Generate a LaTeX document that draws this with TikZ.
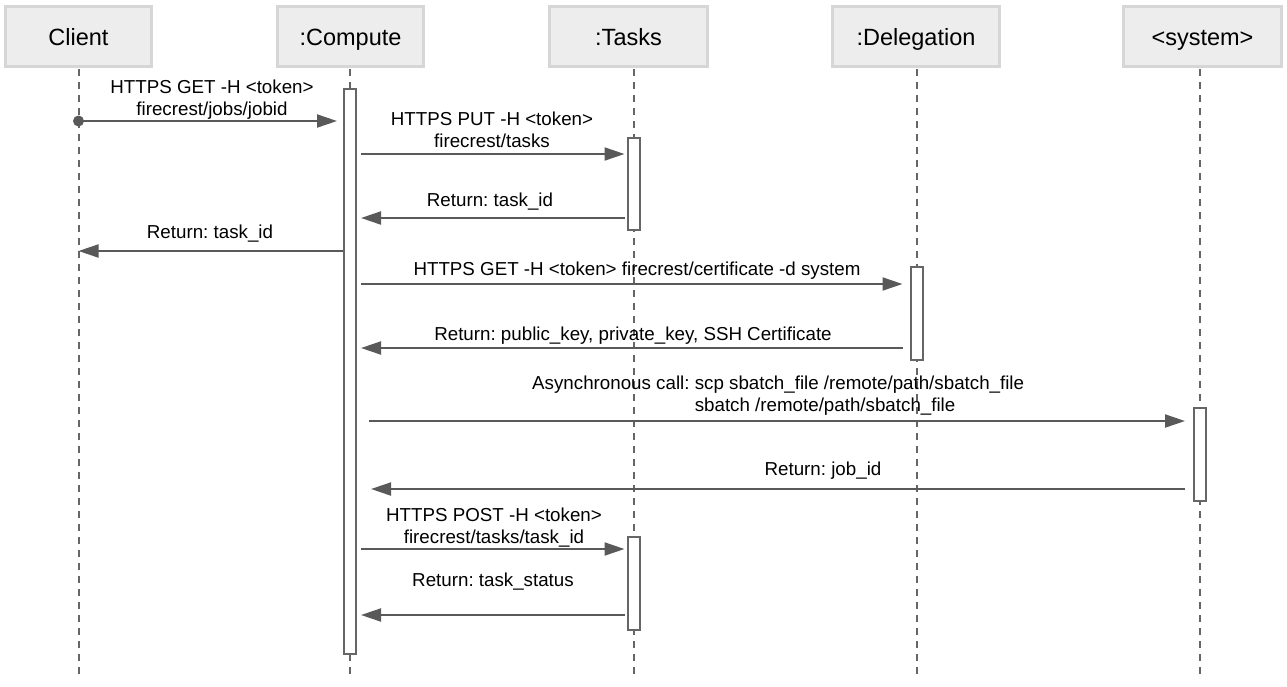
\documentclass[tikz,border=0pt]{standalone}
\usepackage{fontspec}
\setmainfont{Liberation Sans}
\usetikzlibrary{arrows.meta, positioning}
\definecolor{headFill}{HTML}{EDEDED}
\definecolor{headLine}{HTML}{D6D6D6}
\definecolor{msgLine}{HTML}{595959}
\definecolor{barLine}{HTML}{666666}
\frenchspacing

\begin{document}
\begin{tikzpicture}[x=1pt, y=-1pt,
  head/.style={draw=headLine, fill=headFill, line width=3pt, minimum height=60pt,
               inner sep=0pt, text height=17pt, text depth=0pt,
               font=\fontsize{23.5}{28}\selectfont},
  bar/.style={draw=barLine, fill=white, line width=2pt, minimum width=12pt, inner sep=0pt},
  life/.style={barLine, line width=2pt, dash pattern=on 7pt off 6pt},
  msg/.style={msgLine, line width=2pt, -{Triangle[length=20pt, width=13pt]}},
  dot/.style={circle, fill=msgLine, minimum size=11pt, inner sep=0pt},
  lbl/.style={anchor=base, align=center, inner sep=0pt,
              font=\fontsize{18.75}{22}\selectfont}]
  \useasboundingbox (0,0) rectangle (1287,686);

  % ── En-têtes ──
  \node[head, minimum width=146pt] (client)  at (78.5,36.5)  {Client};
  \node[head, minimum width=146pt] (compute) at (350.5,36.5) {:Compute};
  \node[head, minimum width=158pt] (tasks)   at (628.5,36.5) {:Tasks};
  \node[head, minimum width=167pt] (deleg)   at (916,36.5)   {:Delegation};
  \node[head, minimum width=158pt] (system)  at (1202.5,36.5) {<system>};

  % ── Lignes de vie ──
  \foreach \lx in {78.5, 350, 633.5, 916.5, 1200} {
    \draw[life] (\lx,69) -- (\lx,680);
  }

  % ── Barres d'activation ──
  \node[bar, minimum height=565pt] (barCompute) at (350,371.5)  {};
  \node[bar, minimum height=92pt]  (barTaskA)   at (633.5,184)  {};
  \node[bar, minimum height=93pt]  (barDeleg)   at (916.5,313.5) {};
  \node[bar, minimum height=93pt]  (barSystem)  at (1200,454.5) {};
  \node[bar, minimum height=93pt]  (barTaskB)   at (633.5,583.5) {};

  % ── Messages (base = dernière ligne) ──
  \node[dot] (dotA) at (78.5,121) {};
  \draw[msg, shorten >=6pt] (dotA.center) -- (barCompute.west |- dotA);
  \node[lbl] (txtA) at (212,115.5) {HTTPS GET -H <token>\\firecrest/jobs/jobid};

  \draw[msg, shorten <=4pt, shorten >=2pt] (barCompute.east |- 0,154) -- (barTaskA.west |- 0,154);
  \node[lbl] (txtB) at (492,147.5) {HTTPS PUT -H <token>\\firecrest/tasks};

  \draw[msg, shorten <=2pt, shorten >=4pt] (barTaskA.west |- 0,218) -- (barCompute.east |- 0,218);
  \node[lbl] (txtC) at (490,206.5) {Return: task\_id};

  \draw[msg] (barCompute.west |- 0,251) -- (client.south |- 0,251);
  \node[lbl] (txtD) at (210,238.5) {Return: task\_id};

  \draw[msg, shorten <=4pt, shorten >=7pt] (barCompute.east |- 0,284) -- (barDeleg.west |- 0,284);
  \node[lbl] (txtE) at (637,275.5) {HTTPS GET -H <token> firecrest/certificate -d system};

  \draw[msg, shorten <=7pt, shorten >=4pt] (barDeleg.west |- 0,348) -- (barCompute.east |- 0,348);
  \node[lbl] (txtF) at (633,340.5) {Return: public\_key, private\_key, SSH Certificate};

  \draw[msg, shorten <=12pt, shorten >=8pt] (barCompute.east |- 0,421) -- (barSystem.west |- 0,421);
  \node[lbl, anchor=base west, align=left] (txtG) at (532,411.5)
    {Asynchronous call: scp sbatch\_file /remote/path/sbatch\_file\\
     \phantom{Asynchronous call: }sbatch /remote/path/sbatch\_file};

  \draw[msg, shorten <=8pt, shorten >=14pt] (barSystem.west |- 0,489) -- (barCompute.east |- 0,489);
  \node[lbl] (txtH) at (823,475.5) {Return: job\_id};

  \draw[msg, shorten <=4pt, shorten >=2pt] (barCompute.east |- 0,549) -- (barTaskB.west |- 0,549);
  \node[lbl] (txtI) at (494,543.5) {HTTPS POST -H <token>\\firecrest/tasks/task\_id};

  \draw[msg, shorten <=2pt, shorten >=4pt] (barTaskB.west |- 0,615) -- (barCompute.east |- 0,615);
  \node[lbl] (txtJ) at (493,586.5) {Return: task\_status};

\end{tikzpicture}
\end{document}
